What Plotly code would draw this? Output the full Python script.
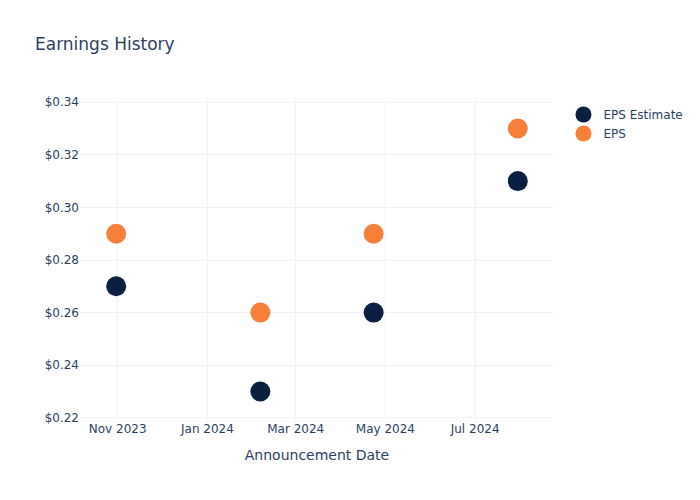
import plotly.graph_objects as go

dates = ["2023-10-31", "2024-02-06", "2024-04-23", "2024-07-30"]
eps_estimate = [0.27, 0.23, 0.26, 0.31]
eps_actual = [0.29, 0.26, 0.29, 0.33]

fig = go.Figure()
fig.add_trace(go.Scatter(x=dates, y=eps_estimate, mode="markers", name="EPS Estimate",
                         marker=dict(color="#0b1f41", size=20)))
fig.add_trace(go.Scatter(x=dates, y=eps_actual, mode="markers", name="EPS",
                         marker=dict(color="#f6803a", size=20)))
fig.update_layout(
    template="plotly_white",
    width=700, height=500,
    font=dict(family="DejaVu Sans"),
    title=dict(text="Earnings History"),
    xaxis=dict(title="Announcement Date", dtick="M2", tickformat="%b %Y",
               gridcolor="#f0f2f6"),
    yaxis=dict(tickformat="$.2f", gridcolor="#f0f2f6"),
)
fig.write_html("out.html")
